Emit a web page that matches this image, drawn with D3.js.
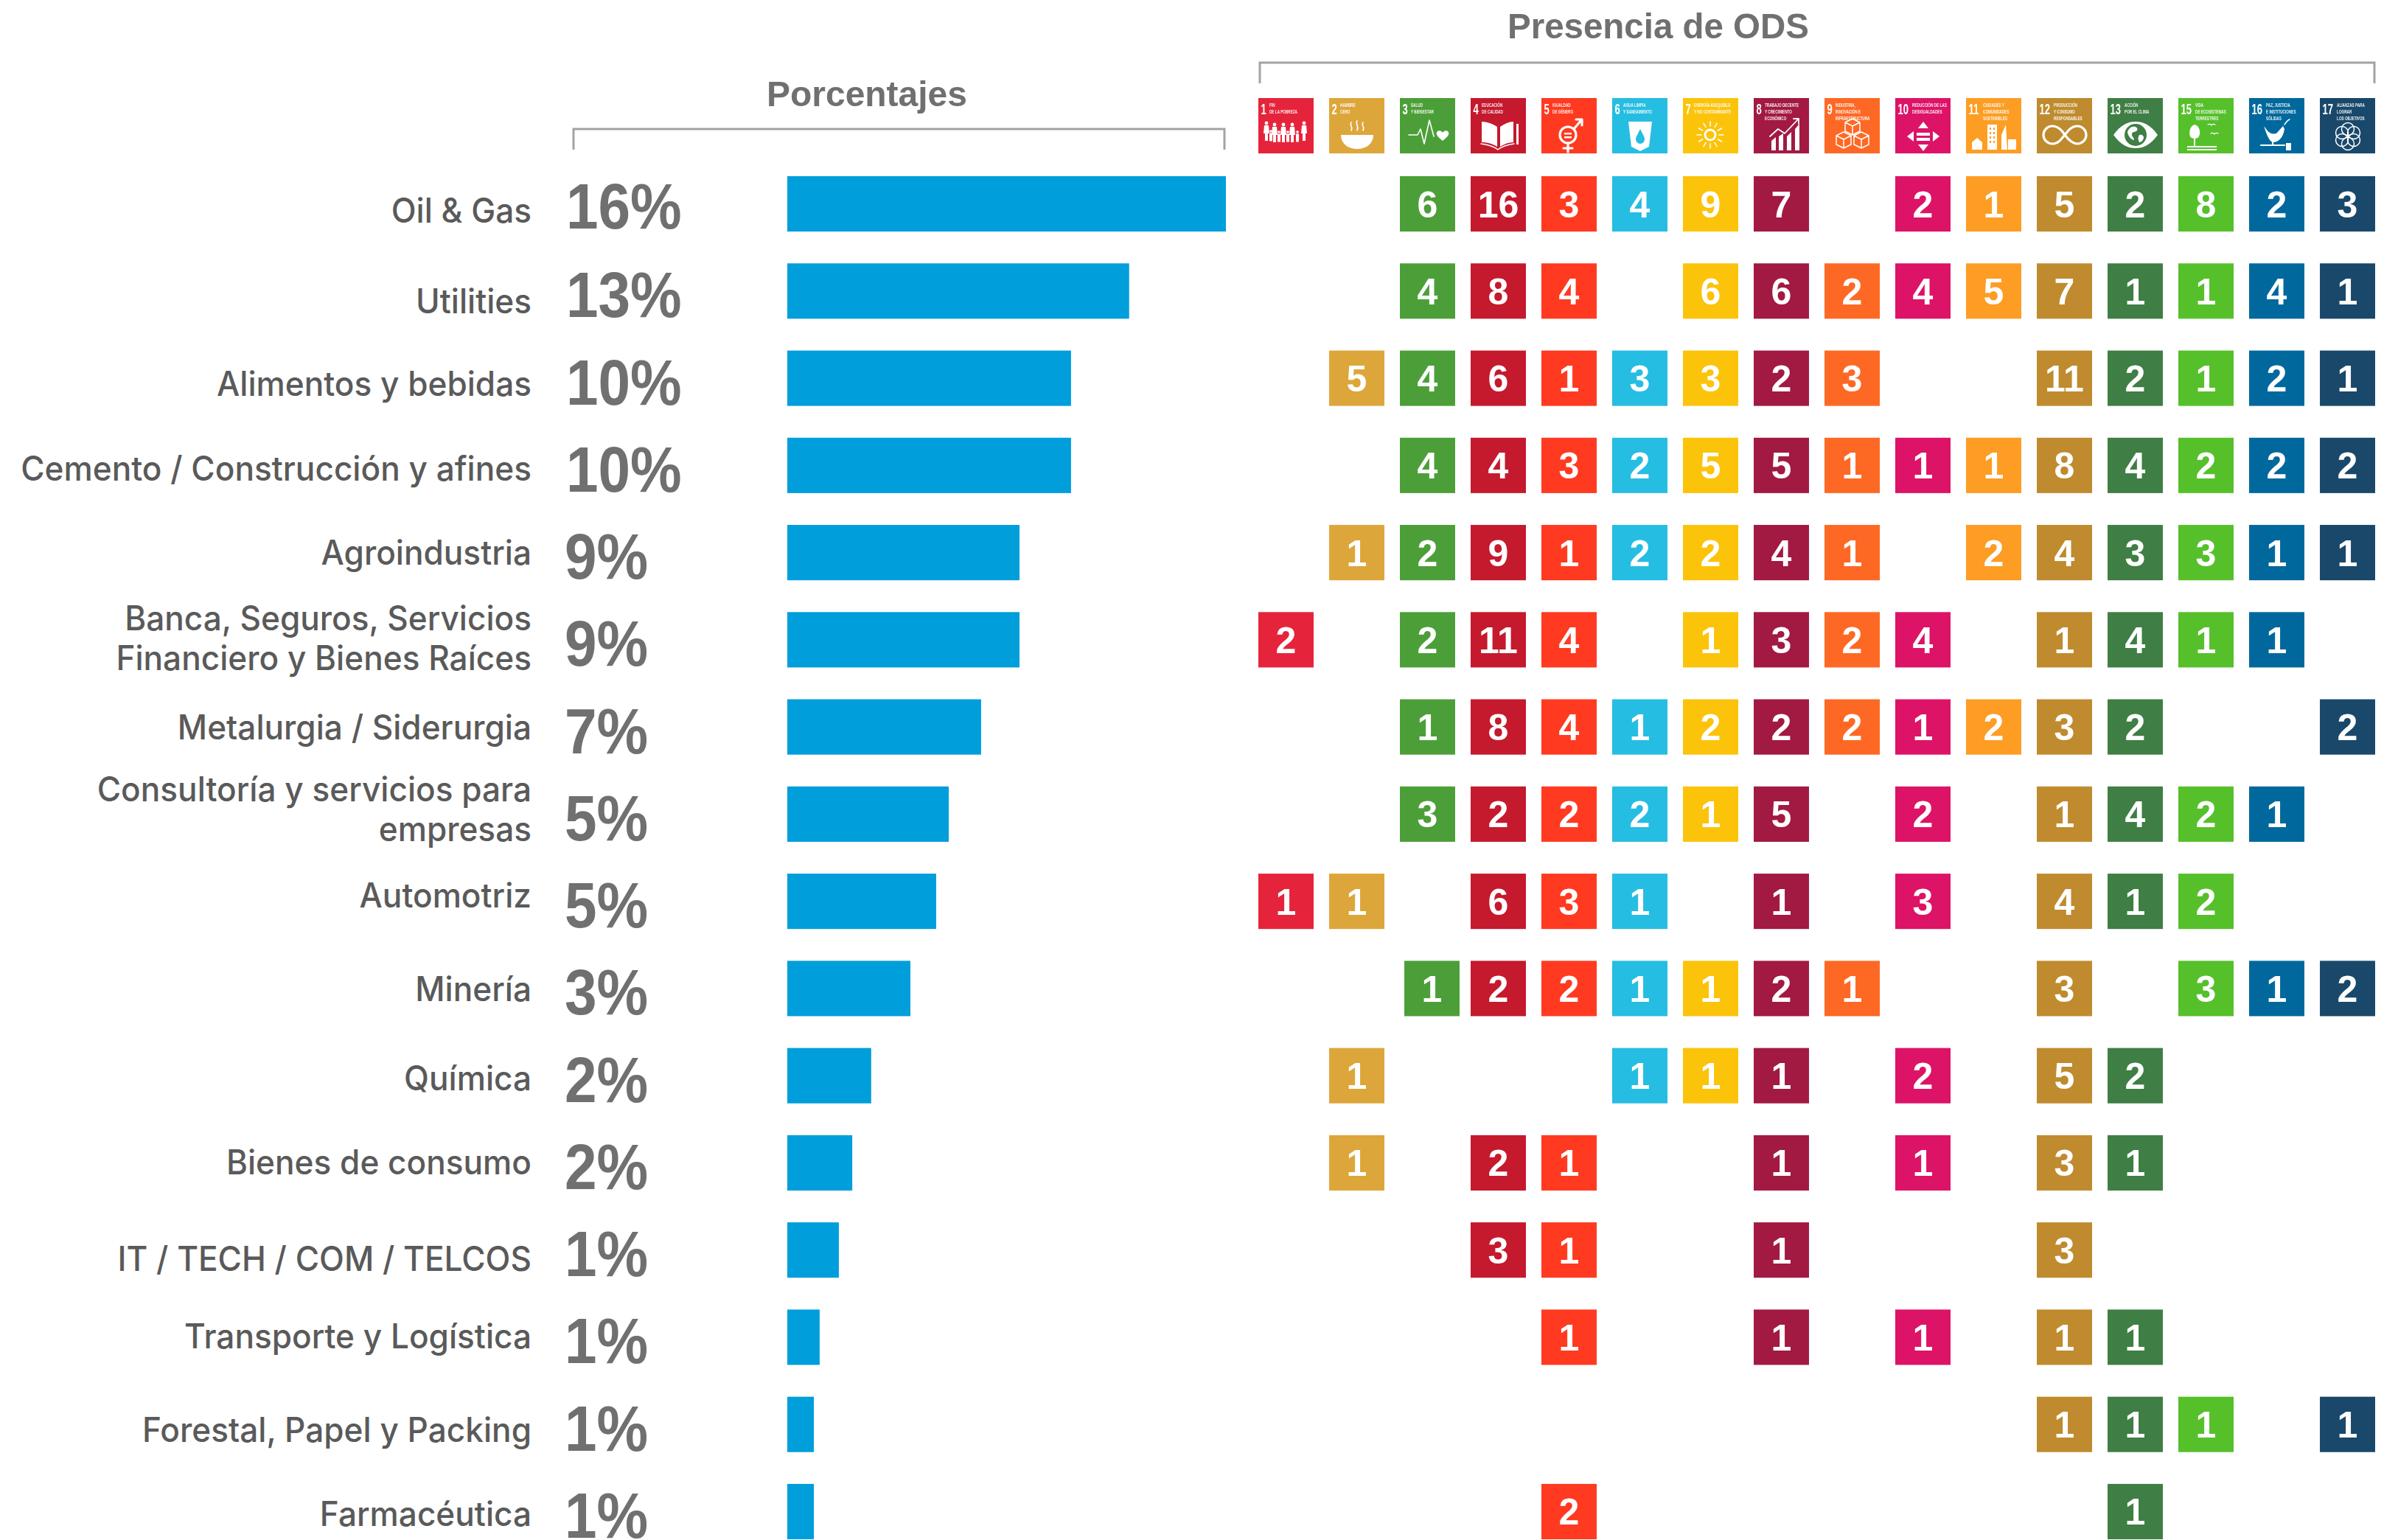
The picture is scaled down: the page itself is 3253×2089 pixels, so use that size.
<!DOCTYPE html>
<html><head><meta charset="utf-8">
<script src="https://cdn.jsdelivr.net/npm/d3@7"></script>
<style>html,body{margin:0;background:#fff}svg{display:block}</style></head>
<body><div id="c"></div>
<script>
const categories=["Oil & Gas","Utilities","Alimentos y bebidas","Cemento / Construcción y afines","Agroindustria","Banca, Seguros, Servicios\nFinanciero y Bienes Raíces","Metalurgia / Siderurgia","Consultoría y servicios para\nempresas","Automotriz","Minería","Química","Bienes de consumo","IT / TECH / COM / TELCOS","Transporte y Logística","Forestal, Papel y Packing","Farmacéutica"];
const percentLabels=["16%","13%","10%","10%","9%","9%","7%","5%","5%","3%","2%","2%","1%","1%","1%","1%"];
const barValues=[16,12.47,10.35,10.35,8.47,8.47,7.07,5.89,5.43,4.49,3.06,2.37,1.88,1.18,0.97,0.97];
const sdgNumbers=[1,2,3,4,5,6,7,8,9,10,11,12,13,15,16,17];
const sdgColors=["#E5243B","#DDA63A","#4C9F38","#C5192D","#FF3A21","#26BDE2","#FCC30B","#A21942","#FD6925","#DD1367","#FD9D24","#BF8B2E","#3F7E44","#56C02B","#00689D","#19486A"];
const sdgCaptions=[["FIN","DE LA POBREZA"],["HAMBRE","CERO"],["SALUD","Y BIENESTAR"],["EDUCACIÓN","DE CALIDAD"],["IGUALDAD","DE GÉNERO"],["AGUA LIMPIA","Y SANEAMIENTO"],["ENERGÍA ASEQUIBLE","Y NO CONTAMINANTE"],["TRABAJO DECENTE","Y CRECIMIENTO","ECONÓMICO"],["INDUSTRIA,","INNOVACIÓN E","INFRAESTRUCTURA"],["REDUCCIÓN DE LAS","DESIGUALDADES"],["CIUDADES Y","COMUNIDADES","SOSTENIBLES"],["PRODUCCIÓN","Y CONSUMO","RESPONSABLES"],["ACCIÓN","POR EL CLIMA"],["VIDA","DE ECOSISTEMAS","TERRESTRES"],["PAZ, JUSTICIA","E INSTITUCIONES","SÓLIDAS"],["ALIANZAS PARA","LOGRAR","LOS OBJETIVOS"]];
const _=null;
const presence=[
[_,_,6,16,3,4,9,7,_,2,1,5,2,8,2,3],
[_,_,4,8,4,_,6,6,2,4,5,7,1,1,4,1],
[_,5,4,6,1,3,3,2,3,_,_,11,2,1,2,1],
[_,_,4,4,3,2,5,5,1,1,1,8,4,2,2,2],
[_,1,2,9,1,2,2,4,1,_,2,4,3,3,1,1],
[2,_,2,11,4,_,1,3,2,4,_,1,4,1,1,_],
[_,_,1,8,4,1,2,2,2,1,2,3,2,_,_,2],
[_,_,3,2,2,2,1,5,_,2,_,1,4,2,1,_],
[1,1,_,6,3,1,_,1,_,3,_,4,1,2,_,_],
[_,_,1,2,2,1,1,2,1,_,_,3,_,3,1,2],
[_,1,_,_,_,1,1,1,_,2,_,5,2,_,_,_],
[_,1,_,2,1,_,_,1,_,1,_,3,1,_,_,_],
[_,_,_,3,1,_,_,1,_,_,_,3,_,_,_,_],
[_,_,_,_,1,_,_,1,_,1,_,1,1,_,_,_],
[_,_,_,_,_,_,_,_,_,_,_,1,1,1,_,1],
[_,_,_,_,2,_,_,_,_,_,_,_,1,_,_,_]];

// layout
const W=3253,H=2089;
const labelOffsets=[[25.5],[30],[23.5],[21],[16],[-13,41],[17],[-17,37],[8],[17],[20],[16],[28],[15],[24],[20]];
const x=d3.scaleLinear().domain([0,16]).range([1068,1663]);
const y=d3.scaleBand().domain(d3.range(16)).range([239,2088]).paddingInner(.365);
const col=d3.scaleBand().domain(sdgNumbers).range([1707,3222]).paddingInner(.219);
const svg=d3.select("#c").append("svg").attr("width",W).attr("height",H).attr("viewBox",[0,0,W,H]);
const defs=svg.append("defs");
defs.append("filter").attr("id","soft").append("feGaussianBlur").attr("stdDeviation",.45);
const SANS="'Liberation Sans',Arial,sans-serif";

// headers
function bracket(x0,x1,yTop,yBot){
  svg.append("path").attr("d",`M${x0},${yBot}V${yTop}H${x1}V${yBot}`).attr("fill","none").attr("stroke","#a3a3a3").attr("stroke-width",3);
}
bracket(778,1661,175,203); bracket(1709,3221,85,113);
function title(t,x0,base,w){
  const s=svg.append("text").attr("font-family",SANS).attr("font-weight",700).attr("font-size",49).attr("fill","#707070").text(t);
  const k=w/s.node().getComputedTextLength();
  s.attr("transform",`translate(${x0},${base}) scale(${k},1)`);
}
title("Porcentajes",1040,144,272); title("Presencia de ODS",2045,52,409);

// labels
categories.forEach((c,i)=>{
  const cy=y(i)+y.bandwidth()/2;
  c.split("\n").forEach((line,j)=>{
    svg.append("text").attr("font-family","Inter,sans-serif").attr("font-weight",500).attr("font-size",46)
      .attr("fill","#5a5a5a").attr("text-anchor","end")
      .attr("transform",`translate(721,${cy+labelOffsets[i][j]}) scale(.96,1)`).text(line);
  });
});
// percentages
svg.selectAll(".pct").data(percentLabels).join("text").attr("class","pct")
  .attr("font-family",SANS).attr("font-weight",700).attr("font-size",87).attr("fill","#707070")
  .attr("transform",(d,i)=>`translate(${d.length>2?768:766},${y(i)+73-(i===0?2:0)}) scale(.9,1)`).text(d=>d);
// bars
svg.selectAll(".bar").data(barValues).join("rect").attr("class","bar")
  .attr("x",x(0)).attr("y",(d,i)=>y(i)).attr("width",d=>x(d)-x(0)).attr("height",y.bandwidth()).attr("fill","#009EDB");
// cells
presence.forEach((row,i)=>row.forEach((v,j)=>{
  if(v==null)return;
  const nudge=(i===9&&j===2)?6:0;
  const gx=col(sdgNumbers[j])+nudge;
  svg.append("rect").attr("x",gx).attr("y",y(i)).attr("width",col.bandwidth()).attr("height",y.bandwidth()).attr("fill",sdgColors[j]);
  svg.append("text").attr("x",gx+col.bandwidth()/2).attr("y",y(i)+y.bandwidth()/2+18).attr("text-anchor","middle")
    .attr("font-family",SANS).attr("font-weight",700).attr("font-size",50).attr("fill","#fff").text(v);
}));

// SDG tiles (local box 76 x 75)
const iconY=133;
function P(g,d,sw){const p=g.append("path").attr("d",d);if(sw)p.attr("fill","none").attr("stroke","#fff").attr("stroke-width",sw).attr("stroke-linecap","round").attr("stroke-linejoin","round");else p.attr("fill","#fff");return p;}
function C(g,cx,cy,r,sw){const c=g.append("circle").attr("cx",cx).attr("cy",cy).attr("r",r);if(sw)c.attr("fill","none").attr("stroke","#fff").attr("stroke-width",sw);else c.attr("fill","#fff");return c;}
const glyphs={
 1(g){[[11,34],[22,36],[34,36],[46,36],[62,34]].forEach(([a,b])=>{C(g,a,b,2.4);P(g,`M${a-3},${b+3}h6l1,11h-2v10h-4v-10h-2z`)});
   [[17,45],[28,46],[40,46],[53,46]].forEach(([a,b])=>{C(g,a,b,1.8);P(g,`M${a-2},${b+2.5}h4v11h-4z`)});},
 2(g){P(g,"M16,50H60C60,62 50,69 38,69S16,62 16,50Z");["M30,33c-3,4 3,6 0,11","M38,31c-3,4 3,7 0,13","M46,33c-3,4 3,6 0,11"].forEach(d=>P(g,d,1.6));},
 3(g){P(g,"M12,50H24L28,42L33,62L40,30L46,52",1.6);P(g,"M58,58C50,52 48,48 51,45C54,43 57,45 58,47C59,45 62,43 65,45C68,48 66,52 58,58Z");},
 4(g){P(g,"M15,32C22,32 30,35 36,39V66C30,62 22,60 15,60Z");P(g,"M40,39C46,35 52,32 58,32V60C52,60 46,62 40,66Z");P(g,"M14,62C22,63 32,66 37,70C42,66 52,63 59,62",1.4);P(g,"M62,35h3v28h-3z");},
 5(g){C(g,36,50,11,3.2);P(g,"M31,47h10v2.5h-10zM31,52h10v2.5h-10z");P(g,"M36,61v12M30,68h12",3.2);P(g,"M44,42L54,30M47,29h8v8",3.2);},
 6(g){P(g,"M22,32H54L50,66L38,72L26,66Z");g.append("path").attr("d","M38,42C34,50 32,53 32,56A6,6 0 0 0 44,56C44,53 42,50 38,42Z").attr("class","inv");},
 7(g){C(g,37,50,7,3);d3.range(12).forEach(i=>{const a=i*Math.PI/6,c=Math.cos(a),s=Math.sin(a);P(g,`M${37+c*12},${50+s*12}L${37+c*18},${50+s*18}`,1.5)});},
 8(g){P(g,"M24,58l6,-5v18h-6zM34,52l6,-4v23h-6zM45,52l6,-6v25h-6zM56,42l6,-7v36h-6z");P(g,"M22,52L33,42L42,48L60,29M54,28h7v7",1.8);},
 9(g){[[38,38],[26,56],[50,56]].forEach(([a,b])=>{P(g,`M${a},${b-10}l10,5v12l-10,5l-10,-5v-12zM${a-10},${b-5}l10,5l10,-5M${a},${b}v12`,1.5)});},
 10(g){P(g,"M38,32l7,9h-14zM38,72l7,-9h-14zM16,52l9,-7v14zM60,52l-9,-7v14z");P(g,"M29,47h18v4h-18zM29,54h18v4h-18z");},
 11(g){P(g,"M29,36h13v34h-13zM48,50l6,-14l2,34h-8zM57,56h11v14h-11zM8,60l7,-6l7,6v10h-14z");g.append("path").attr("d","M32,40h2v3h-2zM37,40h2v3h-2zM32,46h2v3h-2zM37,46h2v3h-2zM32,52h2v3h-2zM37,52h2v3h-2zM32,58h2v3h-2zM37,58h2v3h-2z").attr("class","inv");},
 12(g){P(g,"M38,50C32,40 26,38 21,38A12,12 0 0 0 21,62C29,62 33,56 38,50C43,44 47,38 55,38A12,12 0 0 1 55,62C49,62 44,58 38,50",3.2);},
 13(g){P(g,"M8,50C18,36 28,32 38,32S58,36 68,50C58,64 48,68 38,68S18,64 8,50Z");g.append("circle").attr("cx",38).attr("cy",50).attr("r",15).attr("class","inv");P(g,"M31,40c6,-3 11,0 9,4c-3,3 -7,1 -7,5c0,4 3,4 3,8c-4,0 -8,-6 -9,-10c0,-3 2,-5 4,-7zM43,50c4,-1 6,1 6,4c-1,4 -4,6 -6,6c-2,-3 -2,-7 0,-10z");},
 15(g){P(g,"M22,36C16,38 14,46 16,52C18,56 26,56 28,52C31,46 28,37 22,36Z");P(g,"M21,55h2v10h-2zM12,65h40v2h-40zM12,69h40v2h-40z");P(g,"M40,36c2,-1 4,-1 5,1c1,-2 3,-2 5,-1M44,48c2,-1 4,-1 5,1c1,-2 3,-2 5,-1",1.2);},
 16(g){P(g,"M20,38C25,44 27,50 37,48L46,38L48,42C46,54 40,60 32,60C27,58 24,50 20,38Z");P(g,"M48,36c2,-3 4,-6 7,-7",1.4);P(g,"M16,64H48M32,60v4",2.2);P(g,"M50,61h7v10h-7z");},
 17(g){[[38,42],[46,47],[46,57],[38,62],[30,57],[30,47]].forEach(([a,b])=>C(g,a,b,8.5,1.5));},
};
sdgNumbers.forEach((n,j)=>{
  const g=svg.append("g").attr("transform",`translate(${col(n)},${iconY})`);
  g.append("rect").attr("width",col.bandwidth()).attr("height",y.bandwidth()).attr("fill",sdgColors[j]);
  const inner=g.append("g").attr("filter","url(#soft)");
  const two=n>=10;
  inner.append("text").attr("font-family",SANS).attr("font-weight",700).attr("font-size",21).attr("fill","#fff")
    .attr("transform",`translate(3.5,22) scale(.62,1)`).text(n);
  sdgCaptions[j].forEach((l,k)=>inner.append("text").attr("font-family",SANS).attr("font-weight",700).attr("font-size",7.8).attr("fill","#fff").attr("fill-opacity",.9)
    .attr("transform",`translate(${two?23:15},${12+k*9}) scale(.6,1)`).text(l));
  glyphs[n](inner);
  inner.selectAll(".inv").attr("fill",sdgColors[j]);
});
</script></body></html>
